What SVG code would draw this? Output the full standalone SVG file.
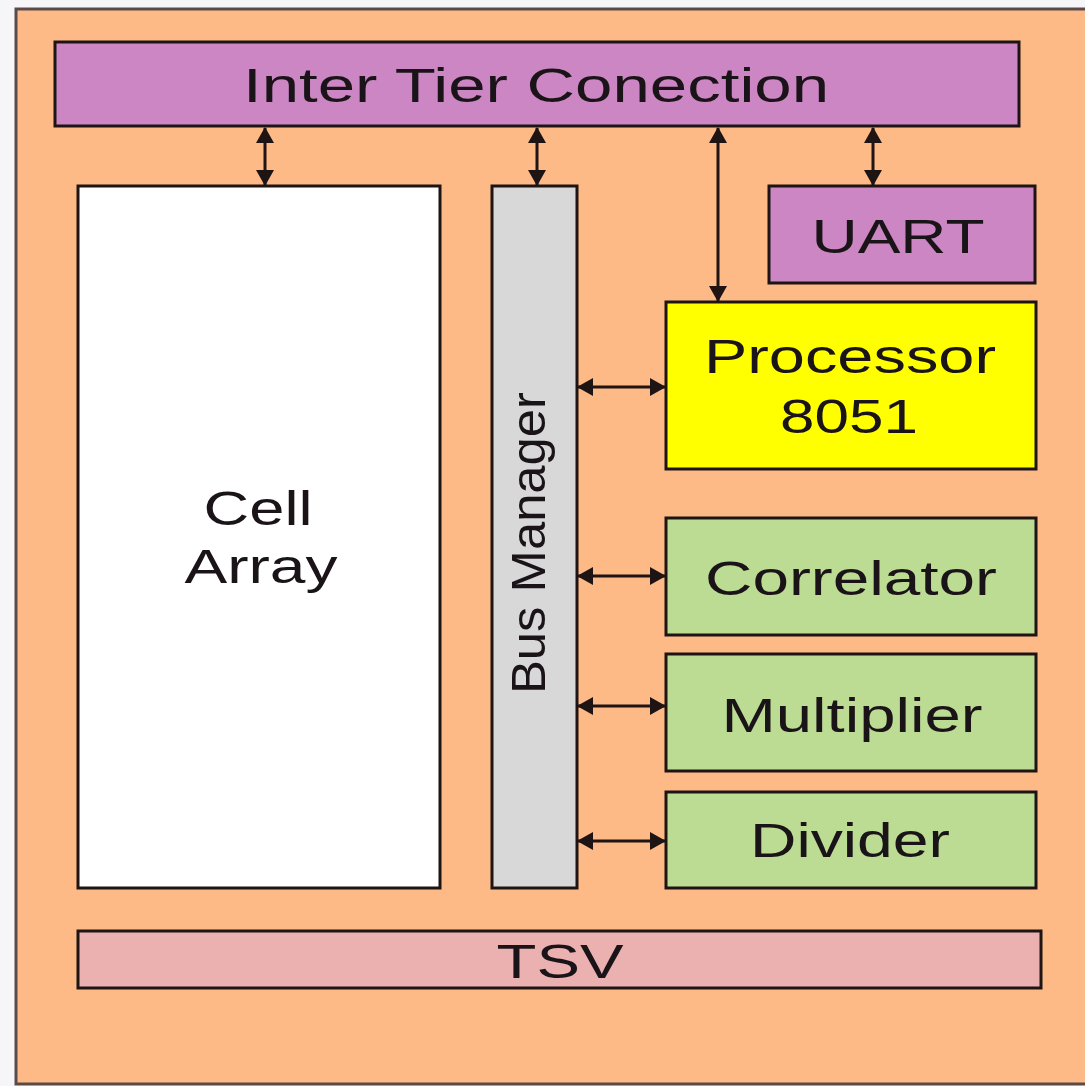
<svg xmlns="http://www.w3.org/2000/svg" width="1085" height="1086" viewBox="0 0 1085 1086">
  <style>
    .box { stroke: #1e1414; stroke-width: 3; }
    .lbl { font-family: "Liberation Sans", Arial, sans-serif; font-size: 48px; fill: #1a1418; }
    .conn { stroke: #1e1414; stroke-width: 3; fill: none; marker-start: url(#ah); marker-end: url(#ah); }
  </style>
  <defs>
    <marker id="ah" markerUnits="userSpaceOnUse" markerWidth="16" markerHeight="18" refX="15" refY="9" orient="auto-start-reverse" viewBox="0 0 16 18">
      <path d="M0,0 L16,9 L0,18 z" fill="#1e1414"/>
    </marker>
  </defs>
  <rect x="0" y="0" width="1085" height="1086" fill="#f6f6f8"/>
  <g id="background">
    <rect x="16" y="9" width="1080" height="1075" fill="#FDBA86" stroke="#5a4a4a" stroke-width="3"/>
  </g>
  <g id="inter-tier">
    <rect class="box" x="55" y="42" width="964" height="84" fill="#CC86C4"/>
    <text class="lbl" x="536" y="102" text-anchor="middle" textLength="586" lengthAdjust="spacingAndGlyphs">Inter Tier Conection</text>
  </g>
  <g id="cell-array">
    <rect class="box" x="78" y="186" width="362" height="702" fill="#ffffff"/>
    <text class="lbl" x="258" y="525" text-anchor="middle" textLength="109" lengthAdjust="spacingAndGlyphs">Cell</text>
    <text class="lbl" x="261" y="583" text-anchor="middle" textLength="153" lengthAdjust="spacingAndGlyphs">Array</text>
  </g>
  <g id="bus-manager">
    <rect class="box" x="492" y="186" width="85" height="702" fill="#D8D8D8"/>
    <text class="lbl" transform="translate(545,543) rotate(-90)" x="0" y="0" text-anchor="middle" textLength="302" lengthAdjust="spacingAndGlyphs">Bus Manager</text>
  </g>
  <g id="uart">
    <rect class="box" x="769" y="186" width="266" height="97" fill="#CC86C4"/>
    <text class="lbl" x="898" y="253" text-anchor="middle" textLength="173" lengthAdjust="spacingAndGlyphs">UART</text>
  </g>
  <g id="processor">
    <rect class="box" x="666" y="302" width="370" height="167" fill="#FFFF00"/>
    <text class="lbl" x="850" y="373" text-anchor="middle" textLength="292" lengthAdjust="spacingAndGlyphs">Processor</text>
    <text class="lbl" x="849" y="433" text-anchor="middle" textLength="138" lengthAdjust="spacingAndGlyphs">8051</text>
  </g>
  <g id="correlator">
    <rect class="box" x="666" y="518" width="370" height="117" fill="#BCDC94"/>
    <text class="lbl" x="851" y="595" text-anchor="middle" textLength="292" lengthAdjust="spacingAndGlyphs">Correlator</text>
  </g>
  <g id="multiplier">
    <rect class="box" x="666" y="654" width="370" height="117" fill="#BCDC94"/>
    <text class="lbl" x="852" y="732" text-anchor="middle" textLength="261" lengthAdjust="spacingAndGlyphs">Multiplier</text>
  </g>
  <g id="divider">
    <rect class="box" x="666" y="792" width="370" height="96" fill="#BCDC94"/>
    <text class="lbl" x="850" y="857" text-anchor="middle" textLength="200" lengthAdjust="spacingAndGlyphs">Divider</text>
  </g>
  <g id="tsv">
    <rect class="box" x="78" y="931" width="963" height="57" fill="#EBB0B0"/>
    <text class="lbl" x="560" y="978" text-anchor="middle" textLength="127" lengthAdjust="spacingAndGlyphs">TSV</text>
  </g>
  <g id="connectors">
    <line class="conn" x1="265" y1="128" x2="265" y2="185"/>
    <line class="conn" x1="537" y1="128" x2="537" y2="185"/>
    <line class="conn" x1="718" y1="128" x2="718" y2="301"/>
    <line class="conn" x1="873" y1="128" x2="873" y2="185"/>
    <line class="conn" x1="578" y1="387" x2="665" y2="387"/>
    <line class="conn" x1="578" y1="576" x2="665" y2="576"/>
    <line class="conn" x1="578" y1="706" x2="665" y2="706"/>
    <line class="conn" x1="578" y1="841" x2="665" y2="841"/>
  </g>
</svg>
